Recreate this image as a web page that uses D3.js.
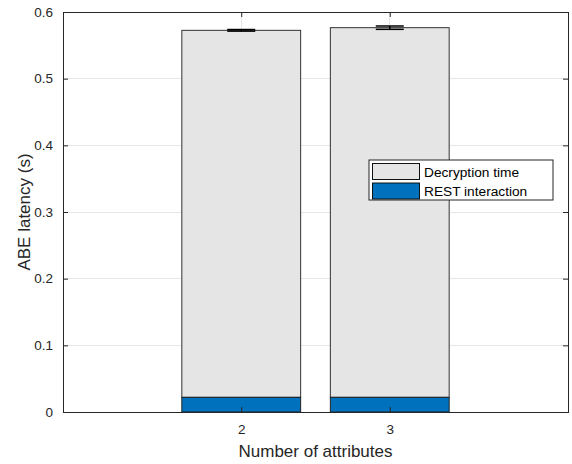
<!DOCTYPE html>
<html><head><meta charset="utf-8">
<script src="https://cdn.jsdelivr.net/npm/d3@7"></script>
<style>body{margin:0;background:#fff}svg{display:block;font-family:"Liberation Sans",Arial,sans-serif}</style>
</head><body>
<script>
const categories = [2, 3];
const totalLatency = [0.5725, 0.5765];
const restInteraction = [0.022, 0.022];
const errorHalf = [0.0012, 0.0025];
const yTicks = [0, 0.1, 0.2, 0.3, 0.4, 0.5, 0.6];
const seriesNames = ["Decryption time", "REST interaction"];
const colors = ["#e5e5e5", "#0072bd"];

const W = 572, H = 464;
const m = {l: 63, r: 4, t: 12, b: 52};
const svg = d3.select("body").append("svg").attr("width", W).attr("height", H);
const x = d3.scaleLinear().domain([0.8, 4.2]).range([m.l, W - m.r]);
const y = d3.scaleLinear().domain([0, 0.6]).range([H - m.b, m.t]);
const axisColor = "#262626";
const gridColor = "#e6e6e6";

// grid
svg.append("g").selectAll("line").data(yTicks.slice(1, -1)).join("line")
  .attr("x1", x(0.8)).attr("x2", x(4.2)).attr("y1", d => y(d)).attr("y2", d => y(d))
  .attr("stroke", gridColor).attr("stroke-width", 1).attr("shape-rendering", "crispEdges");
svg.append("g").selectAll("line").data(categories).join("line")
  .attr("x1", d => x(d)).attr("x2", d => x(d)).attr("y1", y(0)).attr("y2", y(0.6))
  .attr("stroke", gridColor).attr("stroke-width", 1).attr("shape-rendering", "crispEdges");

const bw = x(0.8) - x(0);
const data = categories.map((c, i) => ({c, total: totalLatency[i], rest: restInteraction[i], err: errorHalf[i]}));
svg.append("g").selectAll("rect").data(data).join("rect")
  .attr("x", d => x(d.c) - bw / 2).attr("width", bw)
  .attr("y", d => y(d.total)).attr("height", d => y(d.rest) - y(d.total))
  .attr("fill", colors[0]).attr("stroke", "#333").attr("stroke-width", 1);
svg.append("g").selectAll("rect").data(data).join("rect")
  .attr("x", d => x(d.c) - bw / 2).attr("width", bw)
  .attr("y", d => y(d.rest)).attr("height", d => y(0) - y(d.rest))
  .attr("fill", colors[1]).attr("stroke", "#222").attr("stroke-width", 1);

// error bars
const cap = 14;
const eb = svg.append("g").attr("stroke", "#000").attr("stroke-width", 1.5);
data.forEach(d => {
  eb.append("line").attr("x1", x(d.c)).attr("x2", x(d.c)).attr("y1", y(d.total - d.err)).attr("y2", y(d.total + d.err));
  [d.total - d.err, d.total + d.err].forEach(v => {
    eb.append("line").attr("x1", x(d.c) - cap).attr("x2", x(d.c) + cap).attr("y1", y(v)).attr("y2", y(v));
  });
});

// axes
const fmt = d => d === 0 ? "0" : d3.format(".1f")(d);
const yAxis = svg.append("g").attr("transform", `translate(${m.l},0)`)
  .call(d3.axisLeft(y).tickValues(yTicks).tickFormat(fmt).tickSize(-5).tickPadding(10));
const yAxisR = svg.append("g").attr("transform", `translate(${W - m.r},0)`)
  .call(d3.axisRight(y).tickValues(yTicks).tickFormat("").tickSize(-5));
const xAxis = svg.append("g").attr("transform", `translate(0,${H - m.b})`)
  .call(d3.axisBottom(x).tickValues(categories).tickFormat(d3.format("d")).tickSize(-5).tickPadding(12));
const xAxisT = svg.append("g").attr("transform", `translate(0,${m.t})`)
  .call(d3.axisTop(x).tickValues(categories).tickFormat("").tickSize(-5));
[yAxis, yAxisR, xAxis, xAxisT].forEach(g => {
  g.select(".domain").remove();
  g.selectAll(".tick line").attr("stroke", axisColor);
  g.selectAll("text").attr("fill", axisColor).style("font-size", "13.5px").style("font-family", "Liberation Sans, Arial, sans-serif");
});
svg.append("rect").attr("x", x(0.8)).attr("y", y(0.6)).attr("width", x(4.2) - x(0.8)).attr("height", y(0) - y(0.6))
  .attr("fill", "none").attr("stroke", axisColor).attr("stroke-width", 1).attr("shape-rendering", "crispEdges");

// labels
svg.append("text").attr("x", (x(0.8) + x(4.2)) / 2).attr("y", 457).attr("text-anchor", "middle")
  .attr("fill", axisColor).style("font-size", "17px").text("Number of attributes");
svg.append("text").attr("transform", `translate(30,${(y(0) + y(0.6)) / 2}) rotate(-90)`).attr("text-anchor", "middle")
  .attr("fill", axisColor).style("font-size", "17px").text("ABE latency (s)");

// legend
const lg = svg.append("g").attr("transform", "translate(369,160)");
lg.append("rect").attr("width", 184).attr("height", 40).attr("fill", "#fff").attr("stroke", axisColor).attr("stroke-width", 1);
seriesNames.forEach((n, i) => {
  lg.append("rect").attr("x", 3.5).attr("y", 3.5 + i * 19.5).attr("width", 47).attr("height", 16)
    .attr("fill", colors[i]).attr("stroke", "#111").attr("stroke-width", 1);
  lg.append("text").attr("x", 55).attr("y", 16.5 + i * 19.5).attr("fill", "#000").style("font-size", "13.7px").text(n);
});
</script>
</body></html>
